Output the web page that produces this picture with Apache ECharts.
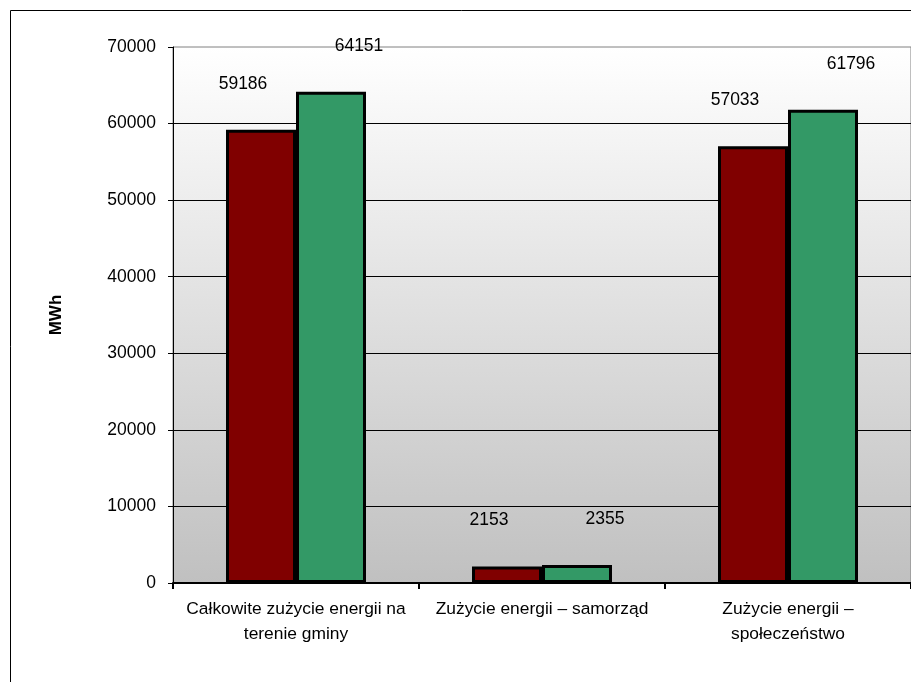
<!DOCTYPE html>
<html>
<head>
<meta charset="utf-8">
<script src="https://cdn.jsdelivr.net/npm/echarts@6/dist/echarts.min.js"></script>
<style>
  html, body { margin: 0; padding: 0; background: #fff; }
  #chart { width: 911px; height: 682px; }
</style>
</head>
<body>
<div id="chart"></div>
<script>
// categories and the two series
var categories = ['Całkowite zużycie energii na\nterenie gminy', 'Zużycie energii – samorząd', 'Zużycie energii –\nspołeczeństwo'];
var seriesRed = [59186, 2153, 57033];
var seriesGreen = [64151, 2355, 61796];
var yTicks = [0, 10000, 20000, 30000, 40000, 50000, 60000, 70000];

var chart = echarts.init(document.getElementById('chart'));

var labelFont = { fontFamily: 'Liberation Sans, Arial, sans-serif', fontSize: 17.5, color: '#000' };

var option = {
  backgroundColor: '#ffffff',
  animation: false,
  graphic: [{
    type: 'rect',
    shape: { x: 10.5, y: 10.5, width: 1000, height: 1000 },
    style: { fill: 'none', stroke: '#000', lineWidth: 1 },
    silent: true
  }],
  grid: {
    left: 173,
    top: 47,
    width: 741,
    bottom: 99,
    show: true,
    borderColor: '#808080',
    borderWidth: 1,
    backgroundColor: {
      type: 'linear', x: 0, y: 0, x2: 0, y2: 1,
      colorStops: [{ offset: 0, color: '#ffffff' }, { offset: 1, color: '#c0c0c0' }]
    }
  },
  xAxis: {
    type: 'category',
    data: categories,
    axisLine: { lineStyle: { color: '#000', width: 2 } },
    axisTick: { show: true, interval: 0, length: 6, lineStyle: { color: '#000', width: 2 } },
    axisLabel: {
      interval: 0,
      fontFamily: 'Liberation Sans, Arial, sans-serif',
      fontSize: 17.4,
      color: '#000',
      lineHeight: 25,
      margin: 14
    }
  },
  yAxis: {
    type: 'value',
    min: yTicks[0],
    max: yTicks[yTicks.length - 1],
    interval: 10000,
    name: 'MWh',
    nameLocation: 'middle',
    nameGap: 108,
    nameRotate: 90,
    nameTextStyle: { fontFamily: 'Liberation Sans, Arial, sans-serif', fontSize: 17, fontWeight: 'bold', color: '#000' },
    axisLine: { show: true, lineStyle: { color: '#000', width: 1 } },
    axisTick: { show: true, length: 5, lineStyle: { color: '#000' } },
    axisLabel: {
      fontFamily: 'Liberation Sans, Arial, sans-serif',
      fontSize: 17.5,
      color: '#000',
      margin: 17,
      formatter: function (v) { return String(v); }
    },
    splitLine: { show: true, showMaxLine: false, lineStyle: { color: '#000', width: 1 } }
  },
  series: [{
    type: 'bar',
    data: seriesRed,
    barWidth: 70,
    barGap: '0%',
    itemStyle: { color: '#800000', borderColor: '#000', borderWidth: 3 },
    label: Object.assign({ show: true, position: 'top', distance: 5, offset: [-18, -32] }, labelFont)
  }, {
    type: 'bar',
    data: seriesGreen,
    barWidth: 70,
    barGap: '0%',
    itemStyle: { color: '#339966', borderColor: '#000', borderWidth: 3 },
    label: Object.assign({ show: true, position: 'top', distance: 5, offset: [28, -32] }, labelFont)
  }]
};

chart.setOption(option);
</script>
</body>
</html>
